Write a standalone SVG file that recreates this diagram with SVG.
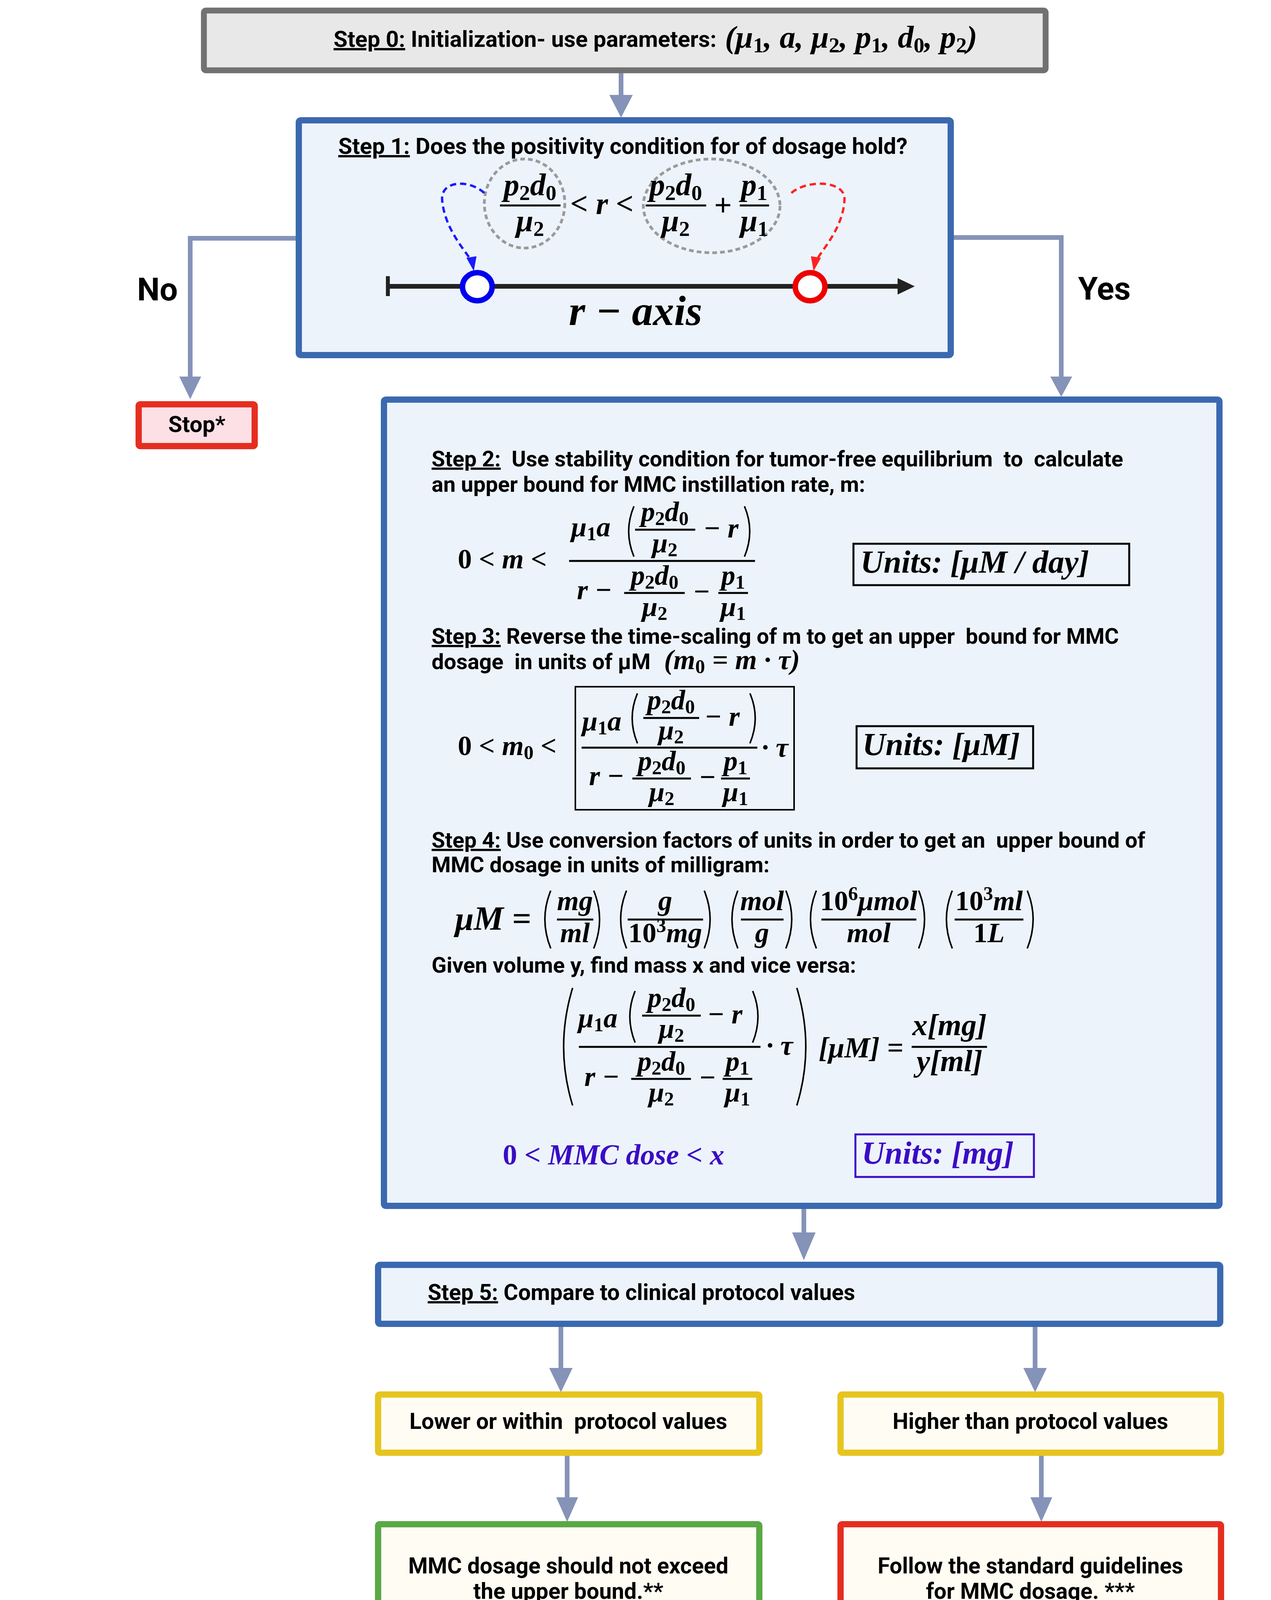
<svg xmlns="http://www.w3.org/2000/svg" width="3254" height="4953" viewBox="0 0 3254 4953">
<style>
.t{font-family:Roboto,"Liberation Sans",Arial,sans-serif;font-weight:bold;fill:#000;white-space:pre}
.fn{font-family:Roboto,"Liberation Sans",Arial,sans-serif;font-weight:normal;font-size:55px;fill:#000;white-space:pre}
.m{font-family:"Liberation Serif","DejaVu Serif",serif;font-style:italic;font-weight:bold;fill:#000}
.u{font-style:normal}
.fl{stroke:#000;stroke-width:5}
.par{fill:none;stroke:#000;stroke-width:4}
.conn{fill:none;stroke:#8593b8;stroke-width:12}
.ah{fill:#8593b8}
.ul{text-decoration:underline}
.blue{fill:#edf3fb;stroke:#3b69b0;stroke-width:16}
.cream{fill:#fffcf3;stroke-width:16}
.dash{stroke:#000;stroke-width:5;stroke-dasharray:14 9;fill:none}
.tick{stroke:#000;stroke-width:3}
</style>

<g id="connectors">
  <line class="conn" x1="1590" y1="186" x2="1590" y2="246"/>
  <polygon class="ah" points="1560,243 1620,243 1590,301"/>
  <path class="conn" d="M757,610 H487 V968"/>
  <polygon class="ah" points="459,964 515,964 487,1022"/>
  <path class="conn" d="M2442,608 H2717 V968"/>
  <polygon class="ah" points="2689,964 2745,964 2717,1016"/>
  <line class="conn" x1="2058" y1="3095" x2="2058" y2="3158"/>
  <polygon class="ah" points="2028,3155 2088,3155 2058,3226"/>
  <line class="conn" x1="1436" y1="3397" x2="1436" y2="3505"/>
  <polygon class="ah" points="1406,3502 1466,3502 1436,3564"/>
  <line class="conn" x1="2650" y1="3397" x2="2650" y2="3505"/>
  <polygon class="ah" points="2620,3502 2680,3502 2650,3564"/>
  <line class="conn" x1="1452" y1="3727" x2="1452" y2="3836"/>
  <polygon class="ah" points="1424,3833 1480,3833 1452,3896"/>
  <line class="conn" x1="2666" y1="3727" x2="2666" y2="3836"/>
  <polygon class="ah" points="2638,3833 2694,3833 2666,3896"/>
  <text class="t" x="351" y="769" font-size="82">No</text>
  <text class="t" x="2760" y="767" font-size="82">Yes</text>
</g>

<g id="step0">
  <rect x="522" y="27" width="2155" height="153" rx="5" fill="#e8e8e8" stroke="#717171" stroke-width="15"/>
  <text class="t" x="854" y="120" font-size="58"><tspan class="ul">Step 0:</tspan> Initialization- use parameters:</text>
  <text class="m" x="1856" y="122" font-size="81">(μ<tspan class="u" font-size="55" dy="12">1</tspan><tspan dy="-12">, a, μ</tspan><tspan class="u" font-size="55" dy="12">2</tspan><tspan dy="-12">, p</tspan><tspan class="u" font-size="55" dy="12">1</tspan><tspan dy="-12">, d</tspan><tspan class="u" font-size="55" dy="12">0</tspan><tspan dy="-12">, p</tspan><tspan class="u" font-size="55" dy="12">2</tspan><tspan dy="-12">)</tspan></text>
</g>

<g id="step1">
  <rect class="blue" x="765" y="308" width="1669" height="601" rx="5"/>
  <text class="t" x="866" y="394" font-size="58"><tspan class="ul">Step 1:</tspan> Does the positivity condition for of dosage hold?</text>
  <ellipse cx="1343" cy="521" rx="103" ry="114" fill="none" stroke="#9a9a9a" stroke-width="7" stroke-dasharray="12 8"/>
  <ellipse cx="1822" cy="527" rx="175" ry="120" fill="none" stroke="#9a9a9a" stroke-width="7" stroke-dasharray="12 8"/>
  <line class="fl" x1="1280" y1="526" x2="1435" y2="526"/>
  <text class="m" x="1357" y="500" font-size="80" text-anchor="middle">p<tspan class="u" font-size="55" dy="12">2</tspan><tspan dy="-12">d</tspan><tspan class="u" font-size="55" dy="12">0</tspan></text>
  <text class="m" x="1357" y="592" font-size="80" text-anchor="middle">μ<tspan class="u" font-size="55" dy="12">2</tspan></text>
  <text class="m" x="1541" y="548" font-size="80" text-anchor="middle">&lt; r &lt;</text>
  <line class="fl" x1="1653" y1="526" x2="1808" y2="526"/>
  <text class="m" x="1730" y="500" font-size="80" text-anchor="middle">p<tspan class="u" font-size="55" dy="12">2</tspan><tspan dy="-12">d</tspan><tspan class="u" font-size="55" dy="12">0</tspan></text>
  <text class="m" x="1730" y="592" font-size="80" text-anchor="middle">μ<tspan class="u" font-size="55" dy="12">2</tspan></text>
  <text class="m u" x="1851" y="552" font-size="80" text-anchor="middle">+</text>
  <line class="fl" x1="1894" y1="526" x2="1969" y2="526"/>
  <text class="m" x="1931" y="500" font-size="80" text-anchor="middle">p<tspan class="u" font-size="55" dy="12">1</tspan></text>
  <text class="m" x="1931" y="592" font-size="80" text-anchor="middle">μ<tspan class="u" font-size="55" dy="12">1</tspan></text>
  <path d="M1240,494 C1200,458 1128,462 1132,512 C1138,585 1190,640 1207,668" fill="none" stroke="#1a1aff" stroke-width="6" stroke-dasharray="16 10"/>
  <polygon points="1213,694 1194,660 1220,656" fill="#1a1aff"/>
  <path d="M2026,494 C2068,458 2166,462 2162,512 C2158,585 2104,640 2089,668" fill="none" stroke="#ff2222" stroke-width="6" stroke-dasharray="16 10"/>
  <polygon points="2083,694 2076,656 2102,660" fill="#ff2222"/>
  <line x1="993" y1="733" x2="2305" y2="733" stroke="#222" stroke-width="12"/>
  <line x1="993" y1="707" x2="993" y2="758" stroke="#222" stroke-width="10"/>
  <polygon points="2298,712 2342,733 2298,754" fill="#222"/>
  <ellipse cx="1222" cy="734" rx="38" ry="36" fill="#fff" stroke="#0000ee" stroke-width="14"/>
  <ellipse cx="2074" cy="734" rx="38" ry="36" fill="#fff" stroke="#ee0000" stroke-width="14"/>
  <text class="m" x="1627" y="832" font-size="108" text-anchor="middle">r − axis</text>
</g>

<g id="stop">
  <rect x="355" y="1035" width="297" height="107" rx="4" fill="#fde0e6" stroke="#e52e20" stroke-width="16"/>
  <text class="t" x="504" y="1106" font-size="58" text-anchor="middle">Stop*</text>
</g>

<g id="step2-4">
  <rect class="blue" x="983" y="1023" width="2139" height="2064" rx="5"/>
  <text class="t" x="1105" y="1194" font-size="56" xml:space="preserve"><tspan class="ul">Step 2:</tspan>  Use stability condition for tumor-free equilibrium  to  calculate</text>
  <text class="t" x="1105" y="1259" font-size="56">an upper bound for MMC instillation rate, m:</text>
  <text class="m" x="1172" y="1455" font-size="72"><tspan class="u">0</tspan> &lt; m &lt;</text>
  <line class="fl" x1="1457" y1="1436" x2="1933" y2="1436"/>
  <text class="m" x="1462" y="1373" font-size="72">μ<tspan class="u" font-size="50" dy="10">1</tspan><tspan dy="-10">a</tspan></text>
  <path class="par" d="M1623,1296 Q1596,1360 1623,1425"/>
  <line class="fl" x1="1626" y1="1356" x2="1780" y2="1356"/>
  <text class="m" x="1702" y="1334" font-size="72" text-anchor="middle">p<tspan class="u" font-size="50" dy="10">2</tspan><tspan dy="-10">d</tspan><tspan class="u" font-size="50" dy="10">0</tspan></text>
  <text class="m" x="1702" y="1414" font-size="72" text-anchor="middle">μ<tspan class="u" font-size="50" dy="10">2</tspan></text>
  <text class="m" x="1801" y="1376" font-size="72">− r</text>
  <path class="par" d="M1906,1296 Q1933,1360 1906,1425"/>
  <text class="m" x="1477" y="1534" font-size="72">r −</text>
  <line class="fl" x1="1598" y1="1518" x2="1753" y2="1518"/>
  <text class="m" x="1676" y="1497" font-size="72" text-anchor="middle">p<tspan class="u" font-size="50" dy="10">2</tspan><tspan dy="-10">d</tspan><tspan class="u" font-size="50" dy="10">0</tspan></text>
  <text class="m" x="1676" y="1577" font-size="72" text-anchor="middle">μ<tspan class="u" font-size="50" dy="10">2</tspan></text>
  <text class="m" x="1796" y="1538" font-size="72" text-anchor="middle">−</text>
  <line class="fl" x1="1839" y1="1518" x2="1915" y2="1518"/>
  <text class="m" x="1877" y="1497" font-size="72" text-anchor="middle">p<tspan class="u" font-size="50" dy="10">1</tspan></text>
  <text class="m" x="1877" y="1577" font-size="72" text-anchor="middle">μ<tspan class="u" font-size="50" dy="10">1</tspan></text>
  <rect x="2185" y="1392" width="706" height="106" fill="none" stroke="#000" stroke-width="5"/>
  <text class="m" x="2203" y="1466" font-size="82">Units: [μM / day]</text>

  <text class="t" x="1105" y="1648" font-size="56" xml:space="preserve"><tspan class="ul">Step 3:</tspan> Reverse the time-scaling of m to get an upper  bound for MMC</text>
  <text class="t" x="1105" y="1713" font-size="56" xml:space="preserve">dosage  in units of μM</text>
  <text class="m" x="1700" y="1713" font-size="72">(m<tspan class="u" font-size="50" dy="10">0</tspan><tspan dy="-10"> = m · τ)</tspan></text>
  <text class="m" x="1172" y="1933" font-size="72"><tspan class="u">0</tspan> &lt; m<tspan class="u" font-size="50" dy="10">0</tspan><tspan dy="-10"> &lt;</tspan></text>
  <rect x="1473" y="1758" width="560" height="315" fill="none" stroke="#000" stroke-width="4"/>
  <line class="fl" x1="1489" y1="1914" x2="1939" y2="1914"/>
  <text class="m" x="1490" y="1870" font-size="72">μ<tspan class="u" font-size="50" dy="10">1</tspan><tspan dy="-10">a</tspan></text>
  <path class="par" d="M1632,1775 Q1605,1838 1632,1903"/>
  <line class="fl" x1="1647" y1="1838" x2="1790" y2="1838"/>
  <text class="m" x="1718" y="1816" font-size="72" text-anchor="middle">p<tspan class="u" font-size="50" dy="10">2</tspan><tspan dy="-10">d</tspan><tspan class="u" font-size="50" dy="10">0</tspan></text>
  <text class="m" x="1718" y="1893" font-size="72" text-anchor="middle">μ<tspan class="u" font-size="50" dy="10">2</tspan></text>
  <text class="m" x="1804" y="1858" font-size="72">− r</text>
  <path class="par" d="M1920,1775 Q1947,1838 1920,1903"/>
  <text class="m" x="1950" y="1937" font-size="72">· τ</text>
  <text class="m" x="1508" y="2010" font-size="72">r −</text>
  <line class="fl" x1="1619" y1="1993" x2="1769" y2="1993"/>
  <text class="m" x="1694" y="1972" font-size="72" text-anchor="middle">p<tspan class="u" font-size="50" dy="10">2</tspan><tspan dy="-10">d</tspan><tspan class="u" font-size="50" dy="10">0</tspan></text>
  <text class="m" x="1694" y="2051" font-size="72" text-anchor="middle">μ<tspan class="u" font-size="50" dy="10">2</tspan></text>
  <text class="m" x="1811" y="2013" font-size="72" text-anchor="middle">−</text>
  <line class="fl" x1="1846" y1="1993" x2="1920" y2="1993"/>
  <text class="m" x="1883" y="1972" font-size="72" text-anchor="middle">p<tspan class="u" font-size="50" dy="10">1</tspan></text>
  <text class="m" x="1883" y="2051" font-size="72" text-anchor="middle">μ<tspan class="u" font-size="50" dy="10">1</tspan></text>
  <rect x="2193" y="1859" width="452" height="108" fill="none" stroke="#000" stroke-width="5"/>
  <text class="m" x="2208" y="1933" font-size="82">Units: [μM]</text>

  <text class="t" x="1105" y="2170" font-size="56" xml:space="preserve"><tspan class="ul">Step 4:</tspan> Use conversion factors of units in order to get an  upper bound of</text>
  <text class="t" x="1105" y="2233" font-size="56">MMC dosage in units of milligram:</text>
  <text class="m" x="1165" y="2380" font-size="86">μM =</text>
  <path class="par" d="M1410,2280 Q1380,2353 1410,2428"/>
  <line class="fl" x1="1426" y1="2354" x2="1519" y2="2354"/>
  <text class="m" x="1472" y="2330" font-size="72" text-anchor="middle">mg</text>
  <text class="m" x="1472" y="2412" font-size="72" text-anchor="middle">ml</text>
  <path class="par" d="M1520,2280 Q1550,2353 1520,2428"/>
  <path class="par" d="M1604,2280 Q1574,2353 1604,2428"/>
  <line class="fl" x1="1607" y1="2354" x2="1800" y2="2354"/>
  <text class="m" x="1703" y="2330" font-size="72" text-anchor="middle">g</text>
  <text class="m" x="1703" y="2412" font-size="72" text-anchor="middle"><tspan class="u">10</tspan><tspan class="u" font-size="50" dy="-26">3</tspan><tspan dy="26">mg</tspan></text>
  <path class="par" d="M1803,2280 Q1833,2353 1803,2428"/>
  <path class="par" d="M1889,2280 Q1859,2353 1889,2428"/>
  <line class="fl" x1="1897" y1="2354" x2="2006" y2="2354"/>
  <text class="m" x="1951" y="2330" font-size="72" text-anchor="middle">mol</text>
  <text class="m" x="1951" y="2412" font-size="72" text-anchor="middle">g</text>
  <path class="par" d="M2012,2280 Q2042,2353 2012,2428"/>
  <path class="par" d="M2090,2280 Q2060,2353 2090,2428"/>
  <line class="fl" x1="2103" y1="2354" x2="2346" y2="2354"/>
  <text class="m" x="2224" y="2330" font-size="72" text-anchor="middle"><tspan class="u">10</tspan><tspan class="u" font-size="50" dy="-26">6</tspan><tspan dy="26">μmol</tspan></text>
  <text class="m" x="2224" y="2412" font-size="72" text-anchor="middle">mol</text>
  <path class="par" d="M2352,2280 Q2382,2353 2352,2428"/>
  <path class="par" d="M2438,2280 Q2408,2353 2438,2428"/>
  <line class="fl" x1="2444" y1="2354" x2="2620" y2="2354"/>
  <text class="m" x="2532" y="2330" font-size="72" text-anchor="middle"><tspan class="u">10</tspan><tspan class="u" font-size="50" dy="-26">3</tspan><tspan dy="26">ml</tspan></text>
  <text class="m" x="2532" y="2412" font-size="72" text-anchor="middle"><tspan class="u">1</tspan>L</text>
  <path class="par" d="M2630,2280 Q2660,2353 2630,2428"/>
  <text class="t" x="1105" y="2490" font-size="56">Given volume y, find mass x and vice versa:</text>
  <path class="par" d="M1466,2529 Q1420,2680 1466,2830"/>
  <path class="par" d="M2040,2529 Q2086,2680 2040,2830"/>
  <line class="fl" x1="1482" y1="2680" x2="1947" y2="2680"/>
  <text class="m" x="1480" y="2630" font-size="72">μ<tspan class="u" font-size="50" dy="10">1</tspan><tspan dy="-10">a</tspan></text>
  <path class="par" d="M1626,2537 Q1599,2602 1626,2669"/>
  <line class="fl" x1="1644" y1="2600" x2="1794" y2="2600"/>
  <text class="m" x="1719" y="2578" font-size="72" text-anchor="middle">p<tspan class="u" font-size="50" dy="10">2</tspan><tspan dy="-10">d</tspan><tspan class="u" font-size="50" dy="10">0</tspan></text>
  <text class="m" x="1719" y="2657" font-size="72" text-anchor="middle">μ<tspan class="u" font-size="50" dy="10">2</tspan></text>
  <text class="m" x="1811" y="2620" font-size="72">− r</text>
  <path class="par" d="M1927,2537 Q1954,2602 1927,2669"/>
  <text class="m" x="1962" y="2700" font-size="72">· τ</text>
  <text class="m" x="1496" y="2780" font-size="72">r −</text>
  <line class="fl" x1="1616" y1="2762" x2="1769" y2="2762"/>
  <text class="m" x="1693" y="2741" font-size="72" text-anchor="middle">p<tspan class="u" font-size="50" dy="10">2</tspan><tspan dy="-10">d</tspan><tspan class="u" font-size="50" dy="10">0</tspan></text>
  <text class="m" x="1693" y="2820" font-size="72" text-anchor="middle">μ<tspan class="u" font-size="50" dy="10">2</tspan></text>
  <text class="m" x="1811" y="2782" font-size="72" text-anchor="middle">−</text>
  <line class="fl" x1="1850" y1="2762" x2="1926" y2="2762"/>
  <text class="m" x="1888" y="2741" font-size="72" text-anchor="middle">p<tspan class="u" font-size="50" dy="10">1</tspan></text>
  <text class="m" x="1888" y="2820" font-size="72" text-anchor="middle">μ<tspan class="u" font-size="50" dy="10">1</tspan></text>
  <text class="m" x="2096" y="2707" font-size="74">[μM] =</text>
  <line class="fl" x1="2334" y1="2680" x2="2527" y2="2680"/>
  <text class="m" x="2431" y="2650" font-size="78" text-anchor="middle">x[mg]</text>
  <text class="m" x="2431" y="2742" font-size="78" text-anchor="middle">y[ml]</text>
  <text class="m" x="1287" y="2981" font-size="74" style="fill:#3a0cc4"><tspan class="u">0</tspan> &lt; MMC dose &lt; x</text>
  <rect x="2190" y="2904" width="457" height="109" fill="none" stroke="#3a0cc4" stroke-width="5"/>
  <text class="m" x="2206" y="2979" font-size="82" style="fill:#3a0cc4">Units: [mg]</text>
</g>

<g id="step5">
  <rect class="blue" x="968" y="3238" width="2156" height="151" rx="5"/>
  <text class="t" x="1095" y="3328" font-size="57"><tspan class="ul">Step 5:</tspan> Compare to clinical protocol values</text>
</g>

<g id="lower">
  <rect class="cream" x="968" y="3570" width="976" height="149" rx="4" stroke="#e6c520"/>
  <text class="t" x="1455" y="3658" font-size="57" text-anchor="middle" xml:space="preserve">Lower or within  protocol values</text>
</g>
<g id="higher">
  <rect class="cream" x="2152" y="3570" width="974" height="149" rx="4" stroke="#e6c520"/>
  <text class="t" x="2638" y="3658" font-size="57" text-anchor="middle">Higher than protocol values</text>
</g>
<g id="notexceed">
  <rect class="cream" x="968" y="3902" width="976" height="287" rx="4" stroke="#5aa846"/>
  <text class="t" x="1455" y="4028" font-size="57" text-anchor="middle">MMC dosage should not exceed</text>
  <text class="t" x="1455" y="4093" font-size="57" text-anchor="middle">the upper bound.**</text>
</g>
<g id="follow">
  <rect class="cream" x="2152" y="3902" width="974" height="287" rx="4" stroke="#e52e20"/>
  <text class="t" x="2638" y="4028" font-size="57" text-anchor="middle">Follow the standard guidelines</text>
  <text class="t" x="2638" y="4093" font-size="57" text-anchor="middle">for MMC dosage. ***</text>
</g>

<g id="axis">
  <line class="dash" x1="963" y1="4198" x2="470" y2="4340"/>
  <line class="dash" x1="1950" y1="4198" x2="2022" y2="4340"/>
  <line class="dash" x1="2145" y1="4198" x2="2049" y2="4340"/>
  <line class="dash" x1="3126" y1="4198" x2="3007" y2="4326"/>
  <rect x="308" y="4355" width="2802" height="25" fill="#8a89bb"/>
  <polygon points="3105,4304 3227,4367 3105,4431" fill="#8a89bb"/>
  <rect x="1299" y="4356" width="730" height="23" fill="#8f5a45"/>
  <ellipse cx="1299" cy="4367" rx="20" ry="23" fill="#8f5a45"/>
  <ellipse cx="2029" cy="4367" rx="20" ry="23" fill="#8f5a45"/>
  <line class="tick" x1="652" y1="4367" x2="652" y2="4476"/>
  <line class="tick" x1="1297" y1="4380" x2="1297" y2="4476"/>
  <line class="tick" x1="2031" y1="4380" x2="2031" y2="4472"/>
  <line class="tick" x1="2976" y1="4367" x2="2976" y2="4474"/>
  <ellipse cx="466" cy="4365" rx="12" ry="13" fill="#111"/>
  <ellipse cx="652" cy="4367" rx="12" ry="13" fill="#111"/>
  <ellipse cx="2976" cy="4365" rx="12" ry="13" fill="#111"/>
  <text class="t" x="466" y="4444" font-size="44" text-anchor="middle">0</text>
  <text class="t" x="517" y="4536" font-size="58" textLength="266" lengthAdjust="spacing">Negligible</text>
  <text class="t" x="944" y="4536" font-size="58" textLength="579" lengthAdjust="spacing">Lowest protocol value</text>
  <text class="t" x="1741" y="4536" font-size="58" textLength="588" lengthAdjust="spacing">Highest protocol value</text>
  <text class="t" x="2775" y="4536" font-size="58" textLength="418" lengthAdjust="spacing" style="fill:#ee1111">Excessive value</text>
</g>

<g id="footnotes">
  <text class="fn" x="31" y="4649">*</text>
  <text class="fn" x="118" y="4649" textLength="2019" lengthAdjust="spacing">For this case the model does not predict cure for the case of MMC treatments.</text>
  <text class="fn" x="31" y="4716" textLength="3133" lengthAdjust="spacing">** The amount of chemotherapy dosage that is considered negligible should be defined by the doctors. If the upper bound</text>
  <text class="fn" x="31" y="4783" textLength="2044" lengthAdjust="spacing">represents a negligible amount of MMC, the current algorithm is not applicable.</text>
  <text class="fn" x="31" y="4850" textLength="3197" lengthAdjust="spacing">*** For this case the model predicts cure for 0&lt;m&lt;b where b is the upper bound which is above clinicians recommendations.</text>
  <text class="fn" x="31" y="4917" textLength="3174" lengthAdjust="spacing" xml:space="preserve">The model does not distinguish between a negligible or excess amount of drug. Therefore ,  standard dose should be given.</text>
</g>
</svg>
